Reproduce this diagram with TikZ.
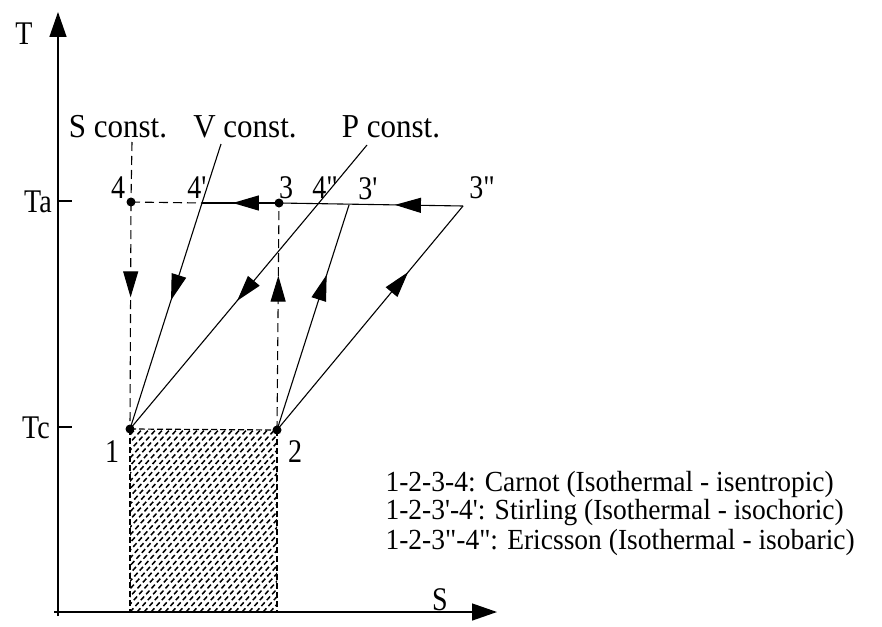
\documentclass[tikz,border=0pt]{standalone}
\usepackage{fontspec}
\setmainfont{Liberation Serif}
\usetikzlibrary{arrows.meta,decorations.markings}
\newcommand\pr{\XeTeXglyph\XeTeXcharglyph"27\relax}
\newcommand\dpr{\XeTeXglyph\XeTeXcharglyph"22\relax}
\newcommand\tx[1]{\scalebox{1}[1.18]{#1}}
\newcommand\tl[1]{\scalebox{1}[1.06]{#1}}
\newcommand\tc[1]{\scalebox{1}[1.08]{#1}}
\begin{document}
\begin{tikzpicture}[x=1pt,y=-1pt,line width=1.1pt,
  midarrow/.style={decoration={markings,mark=at position #1 with {\arrow[solid]{Triangle[length=26pt,width=15pt]}}},postaction=decorate},
  dsh/.style={dash pattern=on 9pt off 5pt},
  dot/.style={circle,fill,inner sep=0pt,minimum size=9pt},
  lbl/.style={font=\fontsize{28}{30}\selectfont,inner sep=0pt},
  leg/.style={font=\fontsize{27.5}{30}\selectfont,inner sep=0pt,anchor=west},
  clbl/.style={font=\fontsize{31}{33}\selectfont,inner sep=0pt}]
\useasboundingbox (0,0) rectangle (882,626);
% points
\coordinate (ttop) at (58,12);
\coordinate (send) at (497,612);
\coordinate (p1) at (130,429);
\coordinate (p2) at (277,430);
\coordinate (p4) at (131,202);
\coordinate (p3) at (279,203);
\coordinate (p4p) at (202,203);
\coordinate (p4pp) at (318,204);
\coordinate (p3p) at (349,205);
\coordinate (p3pp) at (463,206);
\coordinate (vtop) at (221,144);
\coordinate (ptop) at (367,145);
\coordinate (stop) at (132,142);
\coordinate (tab) at (72,201);
\coordinate (tcb) at (72,427);
\coordinate (r1) at (130,612);
\coordinate (r2) at (277,612);
% hatching
\begin{scope}
\clip (p1) rectangle (r2);
\foreach \k in {-224,-217,...,160}{
  \draw[line width=1.5pt,dash pattern=on 5pt off 3pt] (130+\k,612) -- ++(200,-220);
}
\end{scope}
\draw[line width=1.2pt,dash pattern=on 6pt off 3pt] (p1) -- (r1);
\draw[line width=1.2pt,dash pattern=on 6pt off 3pt] (p2) -- (r2);
\draw[line width=1.2pt,dash pattern=on 6pt off 3pt] (p1) -- (p2);
% axes
\draw[line width=1.4pt,-{Triangle[length=25pt,width=17pt]}] (58,616) -- (ttop);
\draw[line width=1.4pt,-{Triangle[length=25pt,width=17pt]}] (54,612) -- (send);
\draw[line width=1.3pt] (58,201) -- (tab);
\draw[line width=1.3pt] (58,427) -- (tcb);
% constant lines
\draw[dsh] (stop) -- (p4);
\draw[dsh,midarrow=0.42] (p4) -- (p1);
\draw[dsh,midarrow=0.68] (p2) -- (p3);
\draw (vtop) -- (p4p);
\draw[midarrow=0.43] (p4p) -- (p1);
\draw (ptop) -- (p4pp);
\draw[midarrow=0.43] (p4pp) -- (p1);
\draw[midarrow=0.69] (p2) -- (p3p);
\draw[midarrow=0.705] (p2) -- (p3pp);
% Ta isotherm
\draw[dsh] (p4) -- (p4p);
\draw[midarrow=0.6] (p3) -- (p4p);
\draw[midarrow=0.37] (p3pp) -- (p3);
% dots
\node[dot] (n1) at (p1) {};
\node[dot] (n2) at (p2) {};
\node[dot] (n3) at (p3) {};
\node[dot] (n4) at (p4) {};
% labels
\node[lbl] (lT) at (24,34) {\tx{T}};
\node[lbl] (lS) at (440,600) {\tx{S}};
\node[lbl] (lTa) at (38,202) {\tx{Ta}};
\node[lbl] (lTc) at (36,428) {\tx{Tc}};
\node[lbl] (l1) at (112,452) {\tx{1}};
\node[lbl] (l2) at (295,452) {\tx{2}};
\node[lbl] (l4) at (118,188) {\tx{4}};
\node[lbl] (l4p) at (197,188) {\tx{4\pr}};
\node[lbl] (l3) at (286,188) {\tx{3}};
\node[lbl] (l4pp) at (325,188) {\tx{4\dpr}};
\node[lbl] (l3p) at (368,189) {\tx{3\pr}};
\node[lbl] (l3pp) at (482,188) {\tx{3\dpr}};
\node[clbl] (lsc) at (118,127) {\tc{S const.}};
\node[clbl] (lvc) at (245,127) {\tc{V const.}};
\node[clbl] (lpc) at (391,127) {\tc{P const.}};
\node[leg] (leg1) at (385,484) {\tl{1-2-3-4: Carnot (Isothermal - isentropic)}};
\node[leg] (leg2) at (385,513) {\tl{1-2-3\pr-4\pr: Stirling (Isothermal - isochoric)}};
\node[leg] (leg3) at (385,542) {\tl{1-2-3\dpr-4\dpr: Ericsson (Isothermal - isobaric)}};
\end{tikzpicture}
\end{document}
